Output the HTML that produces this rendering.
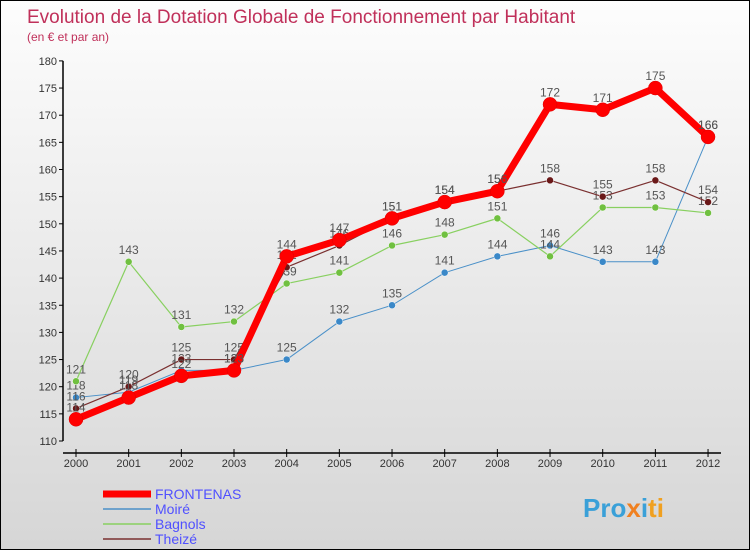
<!DOCTYPE html>
<html><head><meta charset="utf-8"><style>
body{margin:0;width:750px;height:550px;overflow:hidden;font-family:"Liberation Sans",sans-serif}
#c{position:absolute;left:0;top:0;width:748px;height:548px;border:1px solid #000;background:linear-gradient(#fdfdfd,#d6d6d6)}
</style></head><body>
<div id="c">
<svg id="s" width="748" height="548" xmlns="http://www.w3.org/2000/svg">
<text x="26" y="22" font-size="19" fill="#c0305a">Evolution de la Dotation Globale de Fonctionnement par Habitant</text>
<text x="26" y="40" font-size="12" fill="#c0305a">(en € et par an)</text>
<g id="axes"></g><g id="series"></g><g id="legend"></g>
<text x="582" y="516" font-size="26" font-weight="bold" fill="#3aa0d8">Pro<tspan fill="#f08020">x</tspan><tspan fill="#3aa0d8">i</tspan><tspan fill="#f0a020">ti</tspan></text>
</svg></div>
<script>
const years=[2000,2001,2002,2003,2004,2005,2006,2007,2008,2009,2010,2011,2012];
const yTicks=[110,115,120,125,130,135,140,145,150,155,160,165,170,175,180];
const frontenas=[114,118,122,123,144,147,151,154,156,172,171,175,166];
const moire=[118,119,123,123,125,132,135,141,144,146,143,143,166];
const bagnols=[121,143,131,132,139,141,146,148,151,144,153,153,152];
const theize=[116,120,125,125,142,146,151,154,156,158,155,158,154];
const NS="http://www.w3.org/2000/svg";
const X=i=>75+i*52.67, Y=v=>440-(v-110)*5.43;
function mk(t,a,p){const e=document.createElementNS(NS,t);for(const k in a)e.setAttribute(k,a[k]);(p||document.getElementById('series')).appendChild(e);return e;}
const ax=document.getElementById('axes');
let e=mk('line',{x1:62,y1:Y(180),x2:62,y2:Y(110),stroke:'#000','stroke-width':1.5},ax);

e=mk('line',{x1:62,y1:452,x2:720,y2:452,stroke:'#000','stroke-width':1.5},ax);

yTicks.forEach(v=>{mk('line',{x1:58,y1:Y(v),x2:62,y2:Y(v),stroke:'#000'},ax);
 const t=mk('text',{x:56,y:Y(v)+4,'text-anchor':'end','font-size':11,fill:'#333'},ax);t.textContent=v;
 });
years.forEach((y,i)=>{mk('line',{x1:X(i),y1:448,x2:X(i),y2:456,stroke:'#000'},ax);
 const t=mk('text',{x:X(i),y:466,'text-anchor':'middle','font-size':11,fill:'#333'},ax);t.textContent=y;
 });
const defs=[["moire",moire,"#4a90c8","#3a88c8",1,3.5],["bagnols",bagnols,"#88d060","#70c040",1.2,3.5],["theize",theize,"#7a3030","#6a1818",1.2,3.5],["frontenas",frontenas,"#ff0000","#ff0000",7,7]];
defs.forEach(([n,d,lc,pc,w,r])=>{
 const g=mk('g',{});
 mk('polyline',{points:d.map((v,i)=>X(i)+','+Y(v)).join(' '),fill:'none',stroke:lc,'stroke-width':w,'stroke-linejoin':'round'},g);
 d.forEach((v,i)=>{const c=mk('circle',{cx:X(i),cy:Y(v),r:r,fill:pc,stroke:n=='frontenas'?'#d00':'#fff','stroke-width':0.5},g);
  
  const t=mk('text',{x:X(i),y:Y(v)-8,'text-anchor':'middle','font-size':12,fill:'#555'},g);t.textContent=v;});
});
const lg=document.getElementById('legend');
const leg=[["FRONTENAS","#ff0000",7],["Moiré","#4a90c8",1.5],["Bagnols","#88d060",1.5],["Theizé","#7a3030",1.5]];
leg.forEach(([n,c,w],i)=>{const y=493+i*15;
 const g=mk('g',{},lg);
 mk('line',{x1:102,y1:y,x2:150,y2:y,stroke:c,'stroke-width':w},g);
 const t=mk('text',{x:154,y:y+5,'font-size':14,fill:'#5050ff'},g);t.textContent=n;});
</script></body></html>
